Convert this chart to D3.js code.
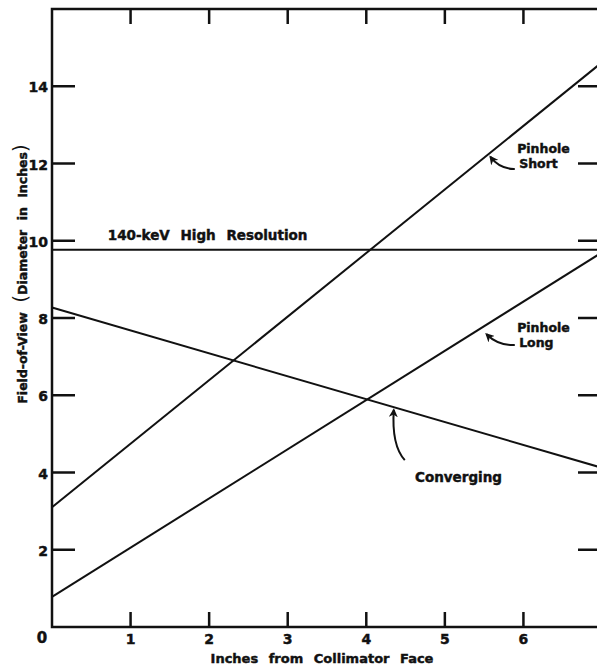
<!DOCTYPE html>
<html>
<head>
<meta charset="utf-8">
<script src="https://cdn.jsdelivr.net/npm/d3@7"></script>
<style>
  body { margin: 0; background: #fff; }
  text { font-family: "DejaVu Sans", sans-serif; font-weight: bold; fill: #111; stroke: #111; stroke-width: 0.45px; }
</style>
</head>
<body>
<div id="chart"></div>
<script>
// x values (inches from collimator face) at both ends of each line
const xEnds = [0, 7];
const pinholeShort = [3.1, 14.62];
const pinholeLong = [0.78, 9.7];
const converging = [8.27, 4.12];
const highRes = [9.77, 9.77];

const xTicks = [1, 2, 3, 4, 5, 6];
const yTicks = [2, 4, 6, 8, 10, 12, 14];

const W = 597, H = 668;
const plotL = 52, plotT = 9, plotR = 602, plotB = 627;

const x = d3.scaleLinear().domain([0, 7]).range([plotL, plotR]);
const y = d3.scaleLinear().domain([0, 16]).range([plotB, plotT]);

const svg = d3.select("#chart")
    .append("svg")
    .attr("width", W)
    .attr("height", H)
    .style("display", "block");

svg.append("defs").append("marker")
    .attr("id", "head")
    .attr("viewBox", "0 0 10 10")
    .attr("refX", 8).attr("refY", 5)
    .attr("markerWidth", 9).attr("markerHeight", 9)
    .attr("markerUnits", "userSpaceOnUse")
    .attr("orient", "auto")
    .append("path")
    .attr("d", "M0,0 L10,5 L0,10 L3,5 Z")
    .attr("fill", "#111");

// frame
const frame = svg.append("g").attr("stroke", "#111").attr("stroke-width", 2.5).attr("fill", "none");
frame.append("rect")
    .attr("x", x(0)).attr("y", y(16))
    .attr("width", x(7) - x(0)).attr("height", y(0) - y(16));

// ticks: inward on all four sides
const tk = svg.append("g").attr("stroke", "#111").attr("stroke-width", 2.5);
tk.selectAll(".tb").data(xTicks).enter().append("line")
    .attr("x1", d => x(d)).attr("x2", d => x(d))
    .attr("y1", y(0)).attr("y2", y(0) - 15);
tk.selectAll(".tt").data(xTicks).enter().append("line")
    .attr("x1", d => x(d)).attr("x2", d => x(d))
    .attr("y1", y(16)).attr("y2", y(16) + 15);
tk.selectAll(".tl").data(yTicks).enter().append("line")
    .attr("x1", x(0)).attr("x2", x(0) + 23)
    .attr("y1", d => y(d)).attr("y2", d => y(d));
tk.selectAll(".tr").data(yTicks).enter().append("line")
    .attr("x1", x(7)).attr("x2", x(7) - 24)
    .attr("y1", d => y(d)).attr("y2", d => y(d));

// tick labels
svg.selectAll(".xl").data(xTicks).enter().append("text")
    .attr("x", d => x(d)).attr("y", y(0) + 17)
    .attr("text-anchor", "middle").attr("font-size", 14)
    .text(d => d);
svg.selectAll(".yl").data(yTicks).enter().append("text")
    .attr("x", x(0) - 4).attr("y", d => y(d) + 6)
    .attr("text-anchor", "end").attr("font-size", 14)
    .text(d => d);
svg.append("text")
    .attr("x", x(0) - 10).attr("y", y(0) + 16)
    .attr("text-anchor", "middle").attr("font-size", 15)
    .text("0");

// axis titles
svg.append("text")
    .attr("x", 322).attr("y", 663)
    .attr("text-anchor", "middle").attr("font-size", 13)
    .attr("word-spacing", 6)
    .text("Inches from Collimator Face");
const yt = svg.append("text")
    .attr("transform", `translate(27,${y(9.14)}) rotate(-90)`)
    .attr("text-anchor", "middle").attr("font-size", 12.5)
    .attr("word-spacing", 5);
yt.append("tspan").text("Field-of-View ");
yt.append("tspan").attr("font-size", 20).attr("font-weight", "normal").attr("stroke-width", 0).text("(");
yt.append("tspan").text("Diameter in Inches");
yt.append("tspan").attr("font-size", 20).attr("font-weight", "normal").attr("stroke-width", 0).text(")");

// data lines
const line = d3.line().x((d, i) => x(xEnds[i])).y(d => y(d));
const lines = svg.append("g").attr("fill", "none").attr("stroke", "#111").attr("stroke-width", 2);
[pinholeShort, pinholeLong, converging, highRes].forEach(s => {
    lines.append("path").attr("d", line(s));
});

// labels
function label(xv, yv, rows) {
    const t = svg.append("text")
        .attr("x", x(xv)).attr("y", y(yv))
        .attr("font-size", 12.5);
    rows.forEach((r, i) => {
        t.append("tspan").attr("x", x(xv) + (i ? 2 : 0)).attr("dy", i ? 15 : 0).text(r);
    });
}
svg.append("text")
    .attr("x", x(0.71)).attr("y", y(10.02))
    .attr("font-size", 13.5).attr("word-spacing", 6)
    .text("140-keV High Resolution");
label(5.92, 12.27, ["Pinhole", "Short"]);
label(5.92, 7.64, ["Pinhole", "Long"]);
const cv = svg.append("text")
    .attr("x", x(4.62)).attr("y", y(3.75))
    .attr("font-size", 13.5)
    .text("Converging");

// curved arrows: tail, bend, head (data units)
function arrow(a, c, b) {
    svg.append("path")
        .attr("d", `M${x(a[0])},${y(a[1])} Q${x(c[0])},${y(c[1])} ${x(b[0])},${y(b[1])}`)
        .attr("fill", "none").attr("stroke", "#111").attr("stroke-width", 2)
        .attr("marker-end", "url(#head)");
}
arrow([5.89, 11.86], [5.70, 11.85], [5.58, 12.17]);
arrow([5.89, 7.30], [5.68, 7.28], [5.53, 7.58]);
arrow([4.49, 4.32], [4.32, 4.70], [4.35, 5.62]);
</script>
</body>
</html>
